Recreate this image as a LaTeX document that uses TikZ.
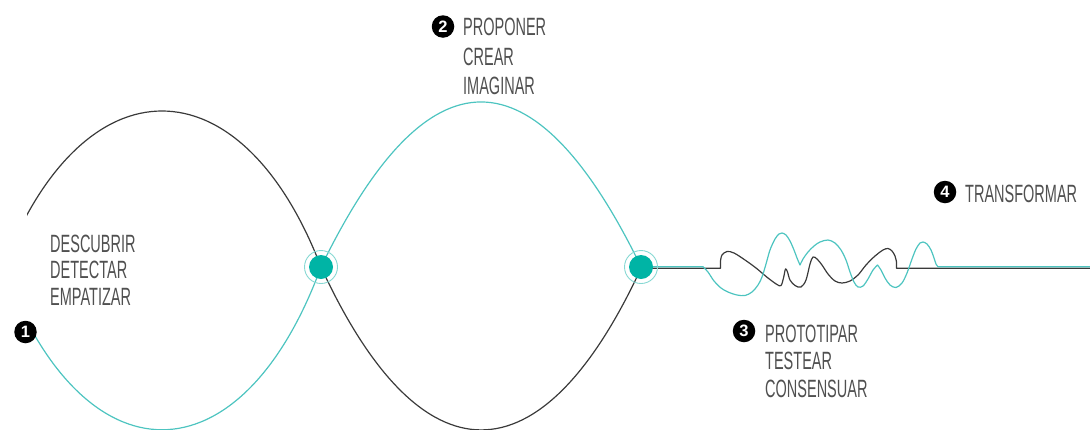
\documentclass[tikz,border=0pt]{standalone}
\usepackage{fontspec}
\setmainfont{Liberation Sans}
\newfontfamily\dinfont[FakeStretch=0.58]{Liberation Sans}
\definecolor{tealline}{HTML}{4DC4C0}
\definecolor{tealdisk}{HTML}{00B4A5}
\definecolor{tealring}{HTML}{86D8D3}
\definecolor{darkline}{HTML}{3A3A3A}
\definecolor{labelgray}{HTML}{505050}
\begin{document}
\begin{tikzpicture}[x=1pt,y=-1pt,
  wave/.style={line width=1.2pt, line cap=round, line join=round},
  txt/.style={anchor=base west, inner sep=0pt, text=labelgray, font=\dinfont\fontsize{25}{25}\selectfont},
  stepmark/.style={circle, fill=black, minimum size=22.5pt, inner sep=0pt, text=white, font=\bfseries\fontsize{16.5}{16.5}\selectfont},
  hub/.style={circle, fill=tealdisk, minimum size=24pt, inner sep=0pt},
  hubring/.style={circle, draw=tealring, line width=0.9pt, minimum size=33pt, inner sep=0pt}]
\useasboundingbox (0,0) rectangle (1090,429);

\coordinate (c1) at (321,267);
\coordinate (c2) at (641,267);

% black top arc (clipped at its visible start)
\begin{scope}
  \clip (27,0) rectangle (330,300);
  \draw[wave,darkline] (3,267) .. controls (83,59) and (241,59) .. (c1);
\end{scope}
% teal bottom arc
\begin{scope}
  \clip (29,0) rectangle (330,429);
  \draw[wave,tealline] (3,267) .. controls (83,484) and (241,484) .. (c1);
\end{scope}
% teal top arc
\draw[wave,tealline] (c1) .. controls (428,47) and (534,47) .. (641,266.7);
% black bottom arc
\draw[wave,darkline] (c1) .. controls (421,484) and (541,484) .. (641,268.3);

% black squiggle
\draw[wave,darkline] (641,268.3) -- (720.5,268.3) -- (720.5,261)
  -- plot[smooth, tension=0.55] coordinates {(720.5,261) (722,255) (727,251.5) (734,253) (745,260) (756,268) (768,278) (777,284.5) (781,285.5) (783.5,278) (785.5,269) (787.5,272) (790,280) (795,285.5) (801,287) (806,280) (810,264) (813,257) (817,259) (822,265) (828,274) (835,281) (842,283) (850,281) (858,275) (866,265) (875,256) (883,250) (888,248.5) (892,251) (895,256) (896.5,262)}
  -- (896.5,268.3) -- (1090,268.3);

% teal squiggle
\draw[wave,tealline] (641,266.7) -- (703,266.7)
  -- plot[smooth, tension=0.55] coordinates {(703,266.7) (708,272) (714,281) (721,288) (728,292) (737,295) (745,295.5) (752,292) (758,285) (762,277) (766,264) (770,250) (775,239) (779,234) (782,233) (786,235) (790,241) (794,250) (797,258) (800,265)}
  -- plot[smooth, tension=0.55] coordinates {(800,265) (803,259) (808,252) (814,246) (820,242) (828,240) (835,243) (841,250) (846,260) (850,272) (854,282) (858,287) (863,286) (868,279) (873,270) (877.5,265)}
  -- plot[smooth, tension=0.55] coordinates {(877.5,265) (881,270) (885,278) (890,285) (896,287.5) (902,283) (907,273) (912,259) (916,249) (920,243) (923,242) (927,244) (931,250) (934,258) (936,264) (938,266.7)}
  -- (1090,266.7);

% hubs
\node[hubring] (r1) at (c1) {};
\node[hub] (h1) at (c1) {};
\node[hubring] (r2) at (c2) {};
\node[hub] (h2) at (c2) {};

% step markers
\node[stepmark] (m1) at (25.5,332) {1};
\node[stepmark] (m2) at (443,26.5) {2};
\node[stepmark] (m3) at (744,331) {3};
\node[stepmark] (m4) at (945,192) {4};

% labels
\node[txt] (t1a) at (50,252) {DESCUBRIR};
\node[txt] (t1b) at (50,278.5) {DETECTAR};
\node[txt] (t1c) at (50,305) {EMPATIZAR};

\node[txt] (t2a) at (463,35) {PROPONER};
\node[txt] (t2b) at (463,65) {CREAR};
\node[txt] (t2c) at (463,94) {IMAGINAR};

\node[txt] (t3a) at (765,342) {PROTOTIPAR};
\node[txt] (t3b) at (765,369.5) {TESTEAR};
\node[txt] (t3c) at (765,397) {CONSENSUAR};

\node[txt] (t4) at (965,202) {TRANSFORMAR};
\end{tikzpicture}
\end{document}
